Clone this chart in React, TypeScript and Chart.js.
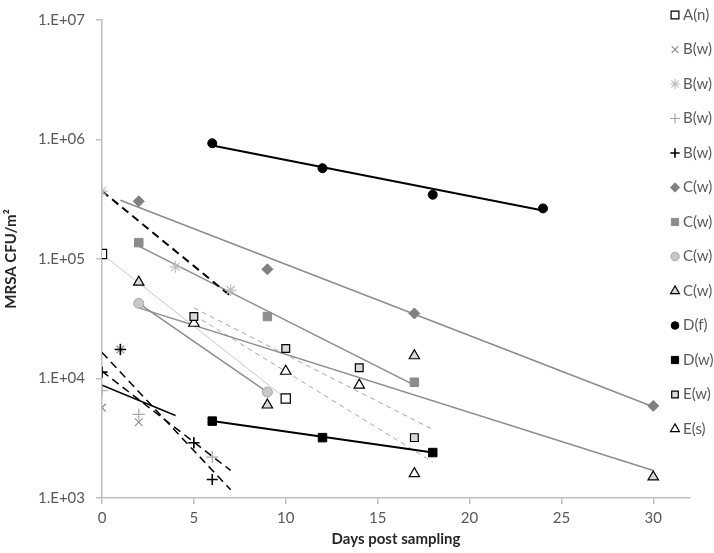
import React, { useEffect, useRef } from 'react';
import { Chart, registerables } from 'chart.js';
import { drawPoint } from 'chart.js/helpers';

Chart.register(...registerables);

// ---------- data ----------
const xTickValues = [0, 5, 10, 15, 20, 25, 30];
const yTickValues = [1e3, 1e4, 1e5, 1e6, 1e7];
const yTickLabels = ['1.E+03', '1.E+04', '1.E+05', '1.E+06', '1.E+07'];

const seriesNames = ['A(n)', 'B(w)', 'B(w)', 'B(w)', 'B(w)', 'C(w)', 'C(w)', 'C(w)', 'C(w)', 'D(f)', 'D(w)', 'E(w)', 'E(s)'];

const aN_x = [0, 10];
const aN_y = [110000, 6800];
const bw1_x = [0, 1, 2];
const bw1_y = [5700, 17500, 4300];
const bw2_x = [0, 4, 7];
const bw2_y = [370000, 86000, 55000];
const bw3_x = [0, 1, 2, 5, 6];
const bw3_y = [7900, 17500, 5000, 2900, 2200];
const bw4_x = [0, 1, 5, 6];
const bw4_y = [11300, 17500, 2900, 1430];
const cw1_x = [2, 9, 17, 30];
const cw1_y = [304000, 82000, 35000, 5900];
const cw2_x = [2, 9, 17];
const cw2_y = [137000, 33000, 9300];
const cw3_x = [2, 9];
const cw3_y = [42500, 7700];
const cw4_x = [2, 9, 17, 30];
const cw4_y = [64000, 6000, 15500, 1500];
const df_x = [6, 12, 18, 24];
const df_y = [930000, 575000, 345000, 265000];
const dw_x = [6, 12, 18];
const dw_y = [4400, 3200, 2400];
const ew_x = [5, 10, 14, 17];
const ew_y = [33000, 17800, 12300, 3200];
const es_x = [5, 10, 14, 17];
const es_y = [29000, 11500, 8800, 1600];

// trendline end points, per series (same order as seriesNames)
const trendX0 = [0, 0, 0, 0, 0, 1, 2, 2, 2, 6, 6, 5, 5];
const trendY0 = [110000, 8800, 370000, 11500, 16500, 310000, 128000, 42500, 39000, 890000, 4400, 39000, 34000];
const trendX1 = [10, 4, 7, 7, 7, 30, 17, 9, 30, 24, 18, 18, 18];
const trendY1 = [6800, 4900, 49000, 1700, 1170, 5800, 8800, 7700, 1700, 255000, 2400, 3750, 2000];

const seriesX = [aN_x, bw1_x, bw2_x, bw3_x, bw4_x, cw1_x, cw2_x, cw3_x, cw4_x, df_x, dw_x, ew_x, es_x];
const seriesY = [aN_y, bw1_y, bw2_y, bw3_y, bw4_y, cw1_y, cw2_y, cw3_y, cw4_y, df_y, dw_y, ew_y, es_y];

// ---------- styles ----------
const markerStyles = [
  { pointStyle: 'rect', radius: 6.5, bg: '#ffffff', border: '#000000', bw: 1.2, order: 0 },
  { pointStyle: 'crossRot', radius: 5.5, bg: 'rgba(0,0,0,0)', border: '#8c8c8c', bw: 1.2, order: 2 },
  { pointStyle: 'star', radius: 6, bg: 'rgba(0,0,0,0)', border: '#bfbfbf', bw: 1.2, order: 2 },
  { pointStyle: 'cross', radius: 6, bg: 'rgba(0,0,0,0)', border: '#a6a6a6', bw: 1.2, order: 2 },
  { pointStyle: 'cross', radius: 5.5, bg: 'rgba(0,0,0,0)', border: '#000000', bw: 1.6, order: -1 },
  { pointStyle: 'rectRot', radius: 5.5, bg: '#808080', border: '#808080', bw: 1, order: 0 },
  { pointStyle: 'rect', radius: 6, bg: '#8c8c8c', border: '#8c8c8c', bw: 1, order: 0 },
  { pointStyle: 'circle', radius: 5, bg: '#c8c8c8', border: '#a6a6a6', bw: 1, order: 0 },
  { pointStyle: 'triangle', radius: 6, bg: '#d9d9d9', border: '#000000', bw: 1.2, order: 0 },
  { pointStyle: 'circle', radius: 4.5, bg: '#000000', border: '#000000', bw: 1, order: 0 },
  { pointStyle: 'rect', radius: 6, bg: '#000000', border: '#000000', bw: 1, order: 0 },
  { pointStyle: 'rect', radius: 5.5, bg: '#d9d9d9', border: '#000000', bw: 1.2, order: 0 },
  { pointStyle: 'triangle', radius: 6, bg: '#ffffff', border: '#000000', bw: 1.2, order: 0 },
];

const trendStyles = [
  { color: '#c8c8c8', width: 1, dash: [] as number[] },
  { color: '#000000', width: 1.5, dash: [] },
  { color: '#000000', width: 2, dash: [8, 5] },
  { color: '#000000', width: 1.5, dash: [8, 5] },
  { color: '#000000', width: 1.5, dash: [8, 5] },
  { color: '#8c8c8c', width: 1.5, dash: [] },
  { color: '#8c8c8c', width: 1.5, dash: [] },
  { color: '#8c8c8c', width: 1.5, dash: [] },
  { color: '#8c8c8c', width: 1.5, dash: [] },
  { color: '#000000', width: 2, dash: [] },
  { color: '#000000', width: 2, dash: [] },
  { color: '#a6a6a6', width: 1, dash: [5, 4] },
  { color: '#a6a6a6', width: 1, dash: [5, 4] },
];

const FONT = 'Lato, "Open Sans", sans-serif';
const LEG_X = 675;
const LEG_TEXT_X = 683;
const LEG_Y0 = 15;
const LEG_DY = 34.5;

const legendPlugin = {
  id: 'excelLegend',
  afterDraw(chart: any) {
    const ctx = chart.ctx;
    ctx.save();
    seriesNames.forEach((name, i) => {
      const ms = markerStyles[i];
      const y = LEG_Y0 + i * LEG_DY;
      ctx.save();
      ctx.fillStyle = ms.bg;
      ctx.strokeStyle = ms.border;
      ctx.lineWidth = ms.bw;
      drawPoint(ctx, { pointStyle: ms.pointStyle as any, radius: ms.radius * 0.85, rotation: 0, borderWidth: ms.bw }, LEG_X, y);
      ctx.restore();
      ctx.font = `15px ${FONT}`;
      ctx.fillStyle = '#595959';
      ctx.textBaseline = 'middle';
      ctx.textAlign = 'left';
      ctx.fillText(name, LEG_TEXT_X, y);
    });
    ctx.restore();
  },
};

export default function App() {
  const ref = useRef<HTMLCanvasElement | null>(null);

  useEffect(() => {
    document.body.style.margin = '0';
    const canvas = ref.current;
    if (!canvas) return;

    const markerSets = seriesNames.map((name, i) => {
      const ms = markerStyles[i];
      return {
        label: name,
        order: ms.order,
        data: seriesX[i].map((x, j) => ({ x, y: seriesY[i][j] })),
        showLine: false,
        pointStyle: ms.pointStyle,
        pointRadius: ms.radius,
        pointBackgroundColor: ms.bg,
        pointBorderColor: ms.border,
        pointBorderWidth: ms.bw,
        backgroundColor: ms.bg,
        borderColor: ms.border,
      };
    });

    const trendSets = seriesNames.map((name, i) => {
      const ts = trendStyles[i];
      return {
        label: name + ' trend',
        order: 5,
        data: [
          { x: trendX0[i], y: trendY0[i] },
          { x: trendX1[i], y: trendY1[i] },
        ],
        showLine: true,
        pointRadius: 0,
        borderColor: ts.color,
        borderWidth: ts.width,
        borderDash: ts.dash,
        backgroundColor: ts.color,
      };
    });

    const chart = new Chart(canvas, {
      type: 'scatter',
      data: { datasets: [...markerSets, ...trendSets] as any },
      options: {
        responsive: false,
        animation: false,
        layout: { padding: { top: 8, right: 24, bottom: 0, left: 0 } },
        plugins: {
          legend: { display: false },
          tooltip: { enabled: false },
        },
        scales: {
          x: {
            type: 'linear',
            min: 0,
            max: 32,
            afterBuildTicks: (scale: any) => {
              scale.ticks = xTickValues.map((v) => ({ value: v }));
            },
            afterFit: (scale: any) => {
              scale.height = 55;
            },
            grid: {
              drawOnChartArea: false,
              drawTicks: true,
              tickLength: 6,
              color: '#bfbfbf',
              lineWidth: 1.5,
            },
            border: { color: '#bfbfbf', width: 1.5 },
            ticks: {
              padding: 5,
              color: '#595959',
              font: { family: FONT, size: 15 },
              callback: (v: any) => String(v),
            },
            title: {
              display: true,
              text: 'Days post sampling',
              color: '#262626',
              font: { family: FONT, size: 15, weight: 'bold' },
              padding: { top: 0, bottom: 5 },
            },
          },
          y: {
            type: 'logarithmic',
            min: 1e3,
            max: 1e7,
            afterBuildTicks: (scale: any) => {
              scale.ticks = yTickValues.map((v) => ({ value: v }));
            },
            afterFit: (scale: any) => {
              scale.width = 102;
            },
            grid: {
              drawOnChartArea: false,
              drawTicks: true,
              tickLength: 6,
              color: '#bfbfbf',
              lineWidth: 1.5,
            },
            border: { color: '#bfbfbf', width: 1.5 },
            ticks: {
              padding: 11,
              color: '#595959',
              font: { family: FONT, size: 15 },
              autoSkip: false,
              callback: (v: any) => {
                const idx = yTickValues.indexOf(Number(v));
                return idx >= 0 ? yTickLabels[idx] : '';
              },
            },
            title: {
              display: true,
              text: 'MRSA CFU/m²',
              color: '#262626',
              font: { family: FONT, size: 15, weight: 'bold' },
              padding: { top: 2, bottom: 0 },
            },
          },
        },
      },
      plugins: [legendPlugin],
    });

    return () => chart.destroy();
  }, []);

  return (
    <div style={{ width: 714, height: 553, background: '#ffffff' }}>
      <canvas ref={ref} width={714} height={553} />
    </div>
  );
}
